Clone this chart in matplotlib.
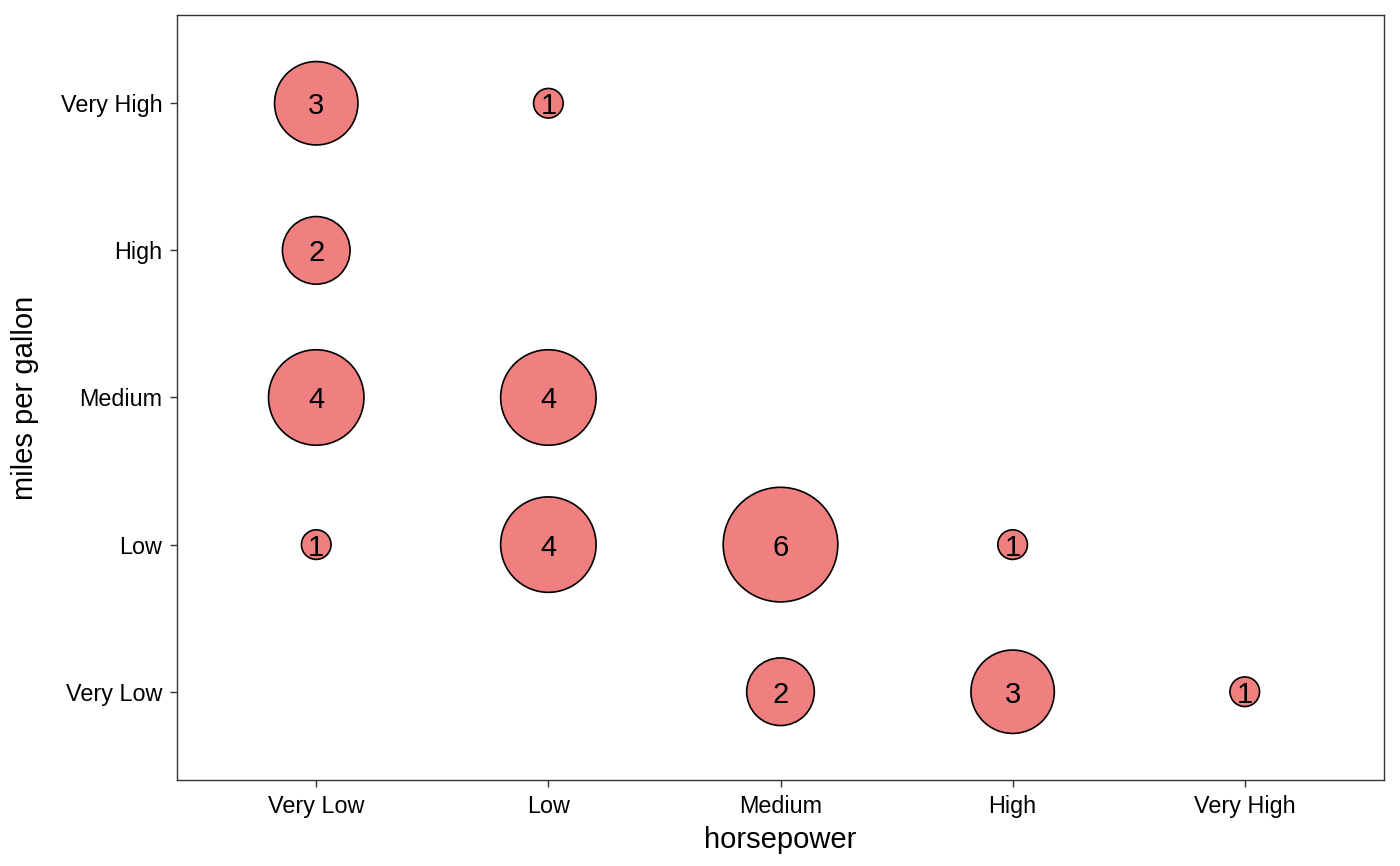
import numpy as np
import matplotlib
matplotlib.use("Agg")
import matplotlib.pyplot as plt

plt.rcParams['font.family'] = ['Liberation Sans', 'DejaVu Sans']

levels = ["Very Low", "Low", "Medium", "High", "Very High"]

# one entry per bubble: horsepower level, mpg level, count
hp = ["Very Low", "Very Low", "Very Low", "Very Low",
      "Low", "Low", "Low",
      "Medium", "Medium",
      "High", "High",
      "Very High"]
mpg = ["Very High", "High", "Medium", "Low",
       "Very High", "Medium", "Low",
       "Low", "Very Low",
       "Low", "Very Low",
       "Very Low"]
counts = [3, 2, 4, 1,
          1, 4, 4,
          6, 2,
          1, 3,
          1]

fig = plt.figure(figsize=(14, 8.66), dpi=100)
ax = fig.add_axes([0.1264, 0.0993, 0.8622, 0.8834])

x = np.array([levels.index(v) + 1 for v in hp])
y = np.array([levels.index(v) + 1 for v in mpg])
n = np.array(counts, dtype=float)

# area-style size scale: radius in pixels from min to max count
rmin, rmax = 15.5, 58.0
t = np.sqrt((n - n.min()) / (n.max() - n.min()))
r_px = rmin + (rmax - rmin) * t
d_pt = 2 * r_px * 72 / fig.dpi - 1.0
ax.scatter(x, y, s=d_pt ** 2, facecolor="#F08080", edgecolor="black",
           linewidth=1.2, zorder=3)

for xi, yi, c in zip(x, y, counts):
    ax.text(xi, yi, str(c), ha="center", va="center_baseline", fontsize=21,
            color="black", zorder=4)

ax.set_xlim(0.4, 5.6)
ax.set_ylim(0.4, 5.6)
ax.set_xticks(range(1, 6))
ax.set_xticklabels(levels)
ax.set_yticks(range(1, 6))
ax.set_yticklabels(levels)

for sp in ax.spines.values():
    sp.set_color("#333333")
    sp.set_linewidth(1.0)
ax.tick_params(axis="both", colors="#333333", length=5, width=1.0,
               labelsize=16.8, labelcolor="black", pad=5.5)

ax.set_xlabel("horsepower", fontsize=21, labelpad=6)
ax.set_ylabel("miles per gallon", fontsize=21, labelpad=16)

fig.savefig("out.png", dpi=100)
